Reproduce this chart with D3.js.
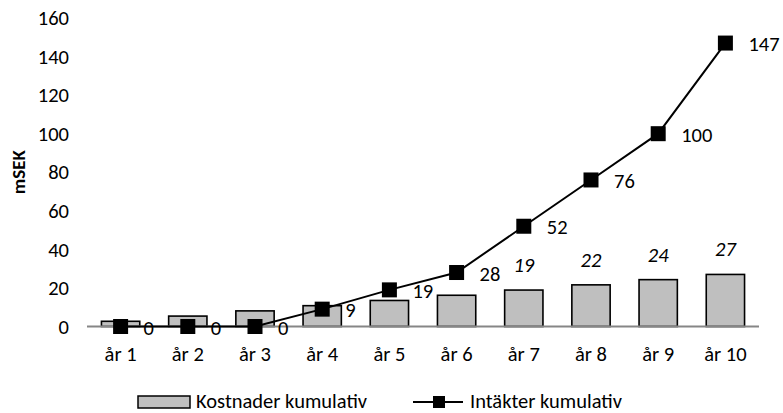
<!DOCTYPE html>
<html><head><meta charset="utf-8">
<script src="https://cdn.jsdelivr.net/npm/d3@7"></script>
<style>body{margin:0;background:#fff}svg{display:block}text{font-family:Carlito,Lato,"Open Sans","Liberation Sans",sans-serif}</style>
</head><body>
<svg id="c" width="783" height="413"></svg>
<script>
const categories = ["år 1","år 2","år 3","år 4","år 5","år 6","år 7","år 8","år 9","år 10"];
const kostnader = [2.7,5.4,8.1,10.8,13.5,16.2,18.9,21.6,24.3,27];
const kostnaderLabels = ["","","","","","","19","22","24","27"];
const intakter = [0,0,0,9,19,28,52,76,100,147];
const intakterLabels = ["0","0","0","9","19","28","52","76","100","147"];
const yTicks = [0,20,40,60,80,100,120,140,160];
const seriesNames = ["Kostnader kumulativ","Intäkter kumulativ"];

const svg = d3.select("#c");
const x = d3.scaleBand().domain(categories).range([87,759]).paddingInner(0.43).paddingOuter(0.215);
const y = d3.scaleLinear().domain([0,160]).range([326.5,18]);
const fs = 20.5;

// y tick labels
svg.append("g").selectAll("text").data(yTicks).join("text")
  .attr("x",69).attr("y",d=>y(d)).attr("dy","0.35em").attr("text-anchor","end")
  .attr("font-size",fs).attr("fill","#000").text(d=>d);

// y title
svg.append("text").attr("transform","translate(18,"+y(80)+") rotate(-90)")
  .attr("text-anchor","middle").attr("dy","0.35em").attr("font-size",19).attr("font-weight","bold").text("mSEK");

// bars
svg.append("g").selectAll("rect").data(kostnader).join("rect")
  .attr("x",(d,i)=>x(categories[i])).attr("y",d=>y(d))
  .attr("width",x.bandwidth()).attr("height",d=>y(0)-y(d))
  .attr("fill","#bfbfbf").attr("stroke","#000").attr("stroke-width",1.6);

// x axis line
svg.append("line").attr("x1",87).attr("x2",759).attr("y1",y(0)).attr("y2",y(0))
  .attr("stroke","#868686").attr("stroke-width",2);

// x labels
svg.append("g").selectAll("text").data(categories).join("text")
  .attr("x",d=>x(d)+x.bandwidth()/2).attr("y",354).attr("dy","0.35em")
  .attr("text-anchor","middle").attr("font-size",fs).text(d=>d);

// bar labels
svg.append("g").selectAll("text").data(kostnader).join("text")
  .attr("x",(d,i)=>x(categories[i])+x.bandwidth()/2).attr("y",d=>y(d)-18)
  .attr("text-anchor","middle").attr("font-size",fs).attr("font-style","italic")
  .text((d,i)=>kostnaderLabels[i]);

// line
const cx = i=>x(categories[i])+x.bandwidth()/2;
svg.append("path").datum(intakter)
  .attr("d",d3.line().x((d,i)=>cx(i)).y(d=>y(d)))
  .attr("fill","none").attr("stroke","#000").attr("stroke-width",2);
const ms=15;
svg.append("g").selectAll("rect").data(intakter).join("rect")
  .attr("x",(d,i)=>cx(i)-ms/2).attr("y",d=>y(d)-ms/2).attr("width",ms).attr("height",ms).attr("fill","#000");
svg.append("g").selectAll("text").data(intakter).join("text")
  .attr("x",(d,i)=>cx(i)+23).attr("y",d=>y(d)+1).attr("dy","0.35em")
  .attr("font-size",fs).text((d,i)=>intakterLabels[i]);

// legend
const ly = 402;
svg.append("rect").attr("x",138).attr("y",ly-6).attr("width",52).attr("height",12)
  .attr("fill","#bfbfbf").attr("stroke","#000").attr("stroke-width",1.5);
svg.append("text").attr("x",196).attr("y",ly).attr("dy","0.3em").attr("font-size",fs).text(seriesNames[0]);
svg.append("line").attr("x1",413).attr("x2",463).attr("y1",ly).attr("y2",ly).attr("stroke","#000").attr("stroke-width",2);
svg.append("rect").attr("x",433).attr("y",ly-6).attr("width",12).attr("height",12).attr("fill","#000");
svg.append("text").attr("x",470).attr("y",ly).attr("dy","0.3em").attr("font-size",fs).text(seriesNames[1]);
</script>
</body></html>
